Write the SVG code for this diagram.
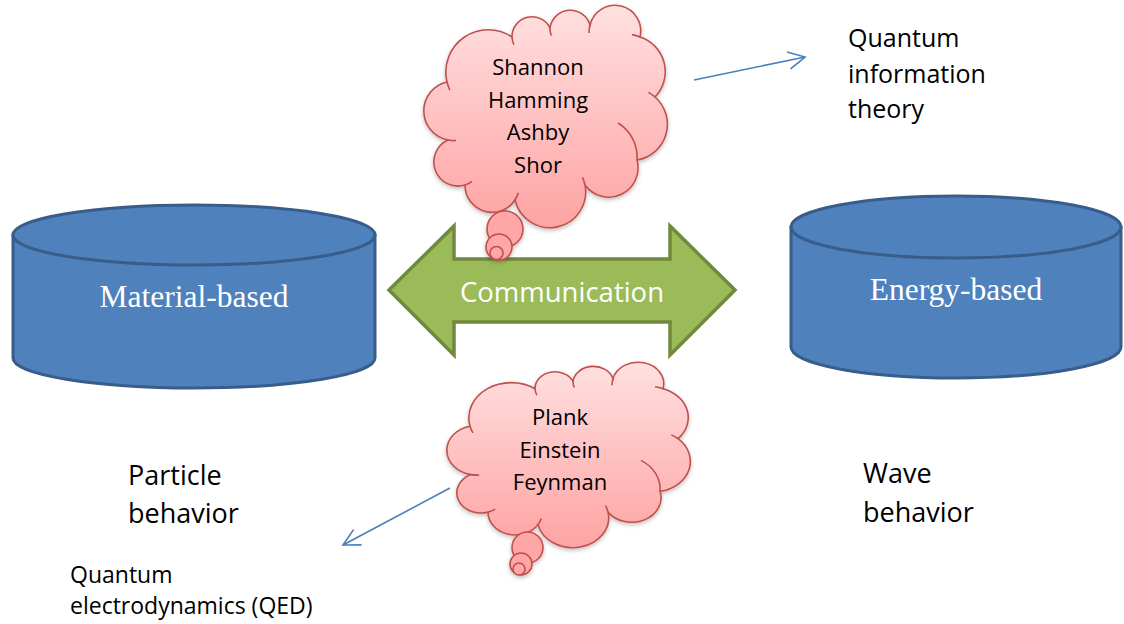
<svg xmlns="http://www.w3.org/2000/svg" width="1124" height="624" viewBox="0 0 1124 624">
<style>
.cyl{fill:#4f81bd;stroke:#385d8a;stroke-width:3}
.cloud{fill:url(#pink);stroke:#c0504d;stroke-width:1.6;vector-effect:non-scaling-stroke}
.crease{fill:none;stroke:#c0504d;stroke-width:1.6;vector-effect:non-scaling-stroke}
.bub{fill:#ffa6a6;stroke:#c0504d;stroke-width:1.6}
.lbl{font-family:"Open Sans","Liberation Sans",sans-serif;fill:#000}
.ser{font-family:"Liberation Serif","Times New Roman",serif;fill:#fff;font-size:31.5px;text-anchor:middle}
.ctext{font-family:"Open Sans","Liberation Sans",sans-serif;font-size:22px;text-anchor:middle;fill:#000}
.conn{fill:none;stroke:#4a7ebb;stroke-width:1.6}
</style>
<defs>
<linearGradient id="pink" x1="0" y1="0" x2="0" y2="1">
<stop offset="0" stop-color="#ffe0e0"/>
<stop offset="1" stop-color="#ffa3a3"/>
</linearGradient>
<filter id="sh" x="-10%" y="-10%" width="120%" height="125%">
<feDropShadow dx="0" dy="2" stdDeviation="2" flood-color="#000" flood-opacity="0.25"/>
</filter>
<marker id="open" markerUnits="userSpaceOnUse" viewBox="-19 -11 22 22" markerWidth="22" markerHeight="22" refX="0" refY="0" orient="auto">
<path d="M-16.5,-8.6 L0,0 L-16.5,8.6" fill="none" stroke="#4a7ebb" stroke-width="1.6"/>
</marker>
<g id="cloudshape">
<path class="cloud" d="M447,82 A42.4,42.4 0 0 1 512,37 A20,20 0 0 1 550,28 A20.5,20.5 0 0 1 590,25 A25.7,25.7 0 0 1 640,37 A36.4,36.4 0 0 1 655,97 A36.2,36.2 0 0 1 637,160 A29.3,29.3 0 0 1 585,185 A35.8,35.8 0 0 1 515,200 A27.2,27.2 0 0 1 465,185 A24.1,24.1 0 0 1 448,140 A29.6,29.6 0 0 1 447,82 Z"/>
<path class="crease" d="M449.9,90.1 A42.4,42.4 0 0 1 447,82 M513.9,44.7 A20,20 0 0 1 512,37 M551.3,35.6 A20.5,20.5 0 0 1 550,28 M589.1,33 A25.7,25.7 0 0 1 590,25 M632.1,34.6 A36.4,36.4 0 0 1 640,37 M648.3,92.4 A36.2,36.2 0 0 1 655,97 M618,123 A40,40 0 0 1 637,160 M582.5,177.3 A35.8,35.8 0 0 1 585,185 M518.3,192.7 A27.2,27.2 0 0 1 515,200 M472.1,181.4 A24.1,24.1 0 0 1 465,185 M456.2,140.5 A29.6,29.6 0 0 1 448,140"/>
</g>
</defs>

<g id="material-based">
<path class="cyl" d="M13,235 V358 A181,30 0 0 0 375,358 V235 Z"/>
<ellipse class="cyl" cx="194" cy="235" rx="181" ry="30"/>
<text class="ser" x="194" y="307">Material-based</text>
</g>

<g id="energy-based">
<path class="cyl" d="M791,227 V347 A165,31 0 0 0 1121,347 V227 Z"/>
<ellipse class="cyl" cx="956" cy="227" rx="165" ry="31"/>
<text class="ser" x="956" y="300">Energy-based</text>
</g>

<g id="communication">
<polygon points="389,290 454,226 454,259 670,259 670,226 735,290 670,355 670,322 454,322 454,355" fill="#9bbb59" stroke="#71893f" stroke-width="3.5"/>
<text x="562" y="302" font-family="'Open Sans','Liberation Sans',sans-serif" font-size="27.5" fill="#fff" text-anchor="middle">Communication</text>
</g>

<g id="cloud-top">
<g filter="url(#sh)">
<use href="#cloudshape"/>
<circle class="bub" cx="505" cy="229" r="18"/>
<circle class="bub" cx="499" cy="247" r="13"/>
<circle class="bub" cx="496.5" cy="253" r="6.5"/>
</g>
<text class="ctext" x="538" y="75">Shannon</text>
<text class="ctext" x="538" y="108">Hamming</text>
<text class="ctext" x="538" y="140">Ashby</text>
<text class="ctext" x="538" y="173">Shor</text>
</g>

<g id="cloud-bottom">
<g filter="url(#sh)">
<use href="#cloudshape" transform="translate(23,357.83) scale(1,0.834)"/>
<circle class="bub" cx="527.5" cy="547.5" r="15.5"/>
<circle class="bub" cx="521" cy="564" r="11"/>
<circle class="bub" cx="519" cy="569" r="6"/>
</g>
<text class="ctext" x="560" y="425">Plank</text>
<text class="ctext" x="560" y="458">Einstein</text>
<text class="ctext" x="560" y="490">Feynman</text>
</g>

<g id="label-qit">
<text class="lbl" font-size="25" x="848" y="47">Quantum</text>
<text class="lbl" font-size="25" x="848" y="83">information</text>
<text class="lbl" font-size="25" x="848" y="118">theory</text>
</g>

<g id="label-particle">
<text class="lbl" font-size="27" x="128" y="485">Particle</text>
<text class="lbl" font-size="27" x="128" y="523">behavior</text>
</g>

<g id="label-wave">
<text class="lbl" font-size="27" x="863" y="483">Wave</text>
<text class="lbl" font-size="27" x="863" y="522">behavior</text>
</g>

<g id="label-qed">
<text class="lbl" font-size="23" x="70" y="583">Quantum</text>
<text class="lbl" font-size="23" x="70" y="614">electrodynamics (QED)</text>
</g>

<g id="connectors">
<line class="conn" x1="694" y1="80" x2="805" y2="57" marker-end="url(#open)"/>
<line class="conn" x1="450" y1="488" x2="343" y2="545" marker-end="url(#open)"/>
</g>
</svg>
